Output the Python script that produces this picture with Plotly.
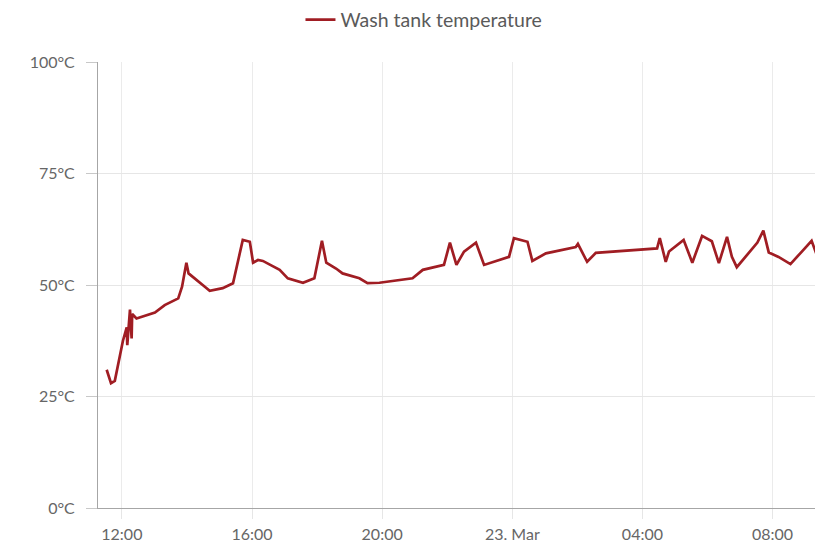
import plotly.graph_objects as go

series_name = "Wash tank temperature"

times = [
    "2023-03-22 11:32", "2023-03-22 11:40", "2023-03-22 11:47", "2023-03-22 11:59",
    "2023-03-22 12:02", "2023-03-22 12:09", "2023-03-22 12:10", "2023-03-22 12:15",
    "2023-03-22 12:18", "2023-03-22 12:19", "2023-03-22 12:27", "2023-03-22 13:01",
    "2023-03-22 13:19", "2023-03-22 13:44", "2023-03-22 13:51", "2023-03-22 13:59",
    "2023-03-22 14:03", "2023-03-22 14:33", "2023-03-22 14:42", "2023-03-22 15:06",
    "2023-03-22 15:25", "2023-03-22 15:43", "2023-03-22 15:56", "2023-03-22 16:02",
    "2023-03-22 16:11", "2023-03-22 16:20", "2023-03-22 16:51", "2023-03-22 17:06",
    "2023-03-22 17:34", "2023-03-22 17:55", "2023-03-22 18:09", "2023-03-22 18:17",
    "2023-03-22 18:35", "2023-03-22 18:47", "2023-03-22 19:18", "2023-03-22 19:33",
    "2023-03-22 19:55", "2023-03-22 20:56", "2023-03-22 21:15", "2023-03-22 21:54",
    "2023-03-22 22:05", "2023-03-22 22:17", "2023-03-22 22:31", "2023-03-22 22:53",
    "2023-03-22 23:08", "2023-03-22 23:54", "2023-03-23 00:03", "2023-03-23 00:28",
    "2023-03-23 00:37", "2023-03-23 01:02", "2023-03-23 01:57", "2023-03-23 02:01",
    "2023-03-23 02:18", "2023-03-23 02:34", "2023-03-23 04:27", "2023-03-23 04:32",
    "2023-03-23 04:43", "2023-03-23 04:49", "2023-03-23 05:16", "2023-03-23 05:32",
    "2023-03-23 05:50", "2023-03-23 06:08", "2023-03-23 06:21", "2023-03-23 06:36",
    "2023-03-23 06:45", "2023-03-23 06:54", "2023-03-23 07:16", "2023-03-23 07:32",
    "2023-03-23 07:43", "2023-03-23 07:53", "2023-03-23 08:11", "2023-03-23 08:33",
    "2023-03-23 08:54", "2023-03-23 09:12", "2023-03-23 09:25", "2023-03-23 09:40",
]

temps = [
    31.0, 28.0, 28.5, 35.5,
    37.5, 40.5, 36.5, 44.5,
    38.0, 43.5, 42.5, 43.8,
    45.5, 47.0, 49.6, 55.0,
    52.6, 49.6, 48.7, 49.3,
    50.4, 60.1, 59.7, 55.0,
    55.6, 55.4, 53.4, 51.5,
    50.5, 51.5, 59.9, 55.0,
    53.7, 52.6, 51.5, 50.4,
    50.5, 51.5, 53.4, 54.5,
    59.5, 54.5, 57.5, 59.5,
    54.5, 56.3, 60.5, 59.7,
    55.4, 57.1, 58.5, 59.2,
    55.2, 57.2, 58.2, 60.5,
    55.2, 57.5, 60.1, 55.0,
    61.0, 59.8, 54.9, 60.8,
    56.3, 54.0, 57.1, 59.5,
    62.2, 57.3, 56.3, 54.7,
    57.5, 59.9, 55.6, 54.5,
]

x_tick_vals = ["2023-03-22 12:00", "2023-03-22 16:00", "2023-03-22 20:00",
               "2023-03-23 00:00", "2023-03-23 04:00", "2023-03-23 08:00"]
x_tick_text = ["12:00", "16:00", "20:00", "23. Mar", "04:00", "08:00"]

y_tick_vals = [0, 25, 50, 75, 100]
y_tick_text = ["0°C", "25°C", "50°C", "75°C", "100°C"]

x_range = ["2023-03-22 11:16", "2023-03-23 09:33"]

fig = go.Figure()
fig.add_trace(go.Scatter(
    x=times, y=temps, mode="lines", name=series_name,
    line=dict(color="#a01d23", width=2.7),
))

fig.update_layout(
    width=815, height=539,
    margin=dict(l=90, r=0, t=54, b=39),
    paper_bgcolor="white", plot_bgcolor="white",
    font=dict(family="Lato, sans-serif", size=15, color="#666666"),
    showlegend=True,
    legend=dict(
        orientation="h", xref="container", yref="container",
        x=0.5104, xanchor="center", y=0.978, yanchor="middle",
        font=dict(size=19.5, color="#5a5a5a"),
        bgcolor="rgba(0,0,0,0)",
    ),
    xaxis=dict(
        type="date", range=x_range,
        tickvals=x_tick_vals, ticktext=x_tick_text,
        showgrid=True, gridcolor="#ebebeb", gridwidth=1,
        showline=True, linecolor="#a6a6a6", linewidth=1,
        ticks="outside", ticklen=10, tickcolor="#e6e6e6",
        zeroline=False, ticklabelstandoff=2,
        tickfont=dict(size=16, color="#666666"),
    ),
    yaxis=dict(
        range=[0, 100],
        tickvals=y_tick_vals, ticktext=y_tick_text,
        showgrid=True, gridcolor="#e6e6e6", gridwidth=1,
        showline=True, linecolor="#a6a6a6", linewidth=1,
        ticks="outside", ticklen=11, tickcolor="#c8c8c8",
        zeroline=False, ticklabelstandoff=8,
        tickfont=dict(size=16, color="#666666"),
    ),
)

fig.write_html("out.html")
